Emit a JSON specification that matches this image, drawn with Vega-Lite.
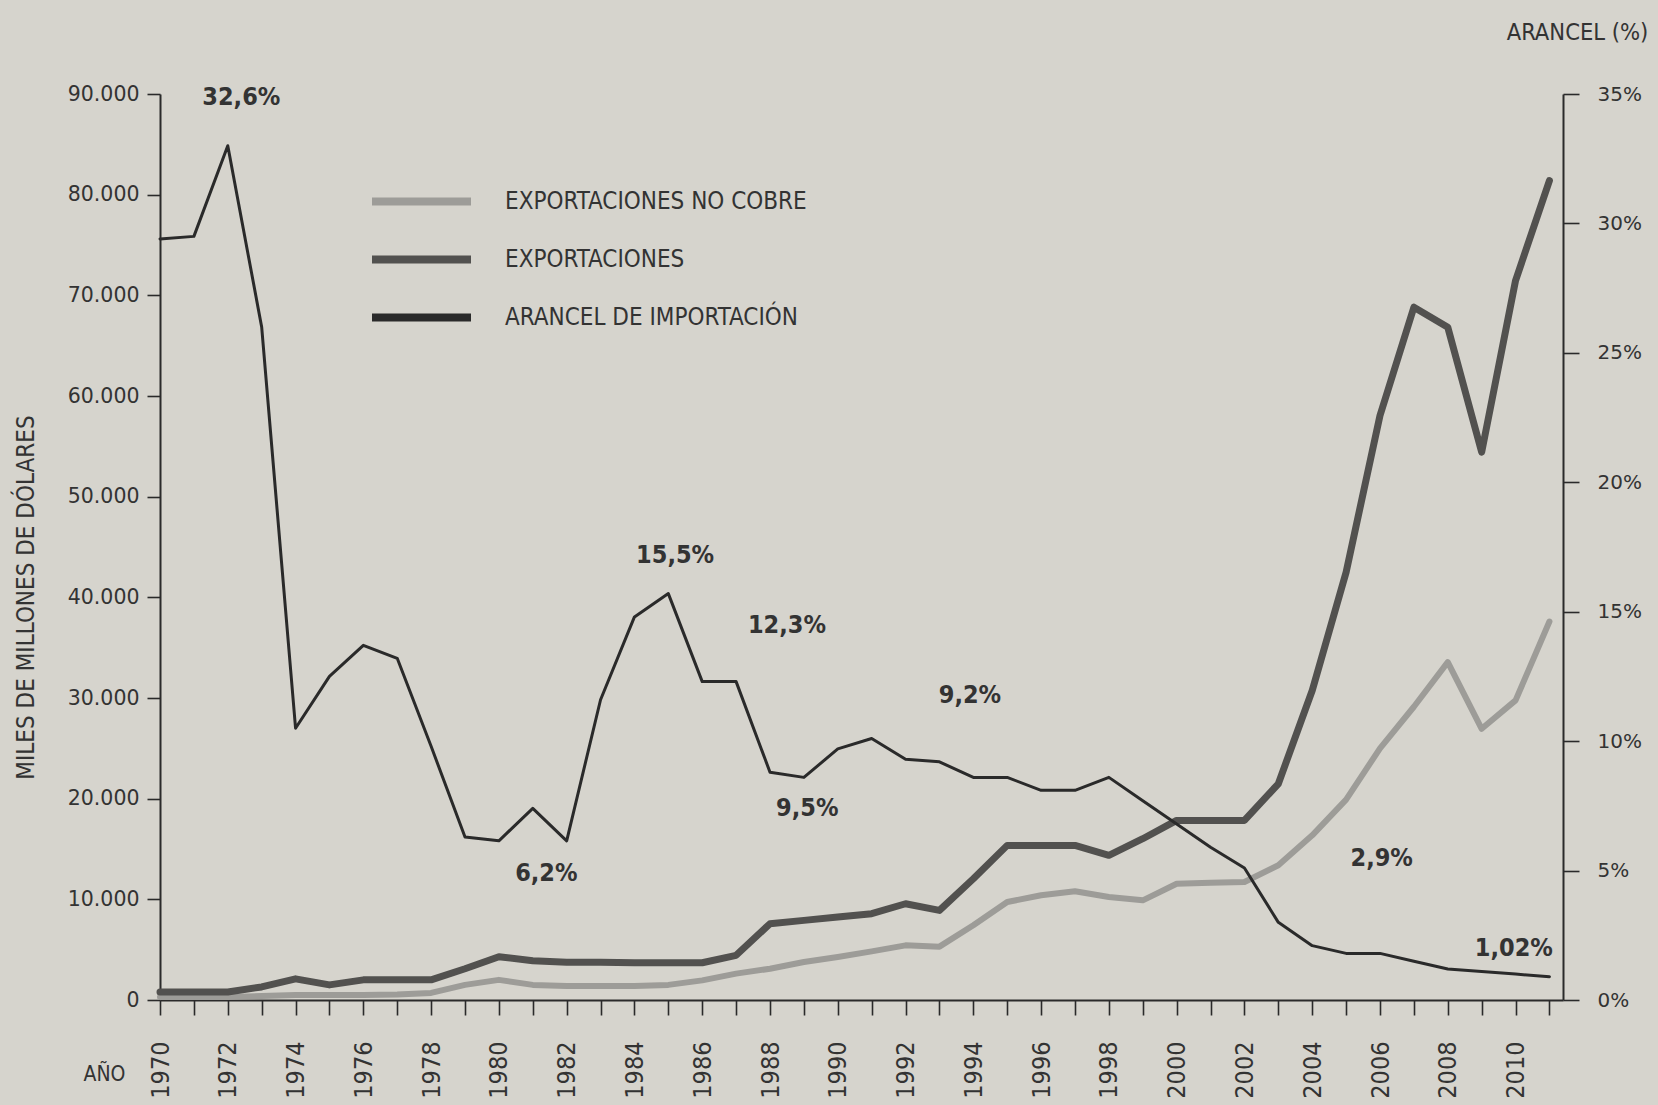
{
  "$schema": "https://vega.github.io/schema/vega-lite/v6.json",
  "width": 1403,
  "height": 906,
  "autosize": {"type": "none"},
  "padding": {"left": 160, "top": 94, "right": 95, "bottom": 105},
  "background": "#d6d4cd",
  "config": {
    "view": {"stroke": null},
    "axis": {
      "grid": false,
      "domainColor": "#2a2a2a",
      "domainWidth": 2,
      "tickColor": "#2a2a2a",
      "tickWidth": 1.6,
      "labelColor": "#333333",
      "titleColor": "#333333",
      "titleFontWeight": "normal"
    },
    "legend": {
      "orient": "none",
      "legendX": 208,
      "legendY": 87,
      "direction": "vertical",
      "padding": 0,
      "symbolType": "M-1,0H5",
      "symbolSize": 1089,
      "symbolStrokeWidth": 8,
      "labelOffset": 96,
      "rowPadding": 21,
      "labelFont": "'DejaVu Sans Condensed', 'Liberation Sans Narrow', 'Roboto', sans-serif",
      "labelFontSize": 24,
      "labelColor": "#333333",
      "labelLimit": 500,
      "title": null
    }
  },
  "datasets": {
    "exportaciones": [
      {"year": 1970, "serie": "EXPORTACIONES NO COBRE", "valor": 300},
      {"year": 1971, "serie": "EXPORTACIONES NO COBRE", "valor": 300},
      {"year": 1972, "serie": "EXPORTACIONES NO COBRE", "valor": 300},
      {"year": 1973, "serie": "EXPORTACIONES NO COBRE", "valor": 400},
      {"year": 1974, "serie": "EXPORTACIONES NO COBRE", "valor": 500},
      {"year": 1975, "serie": "EXPORTACIONES NO COBRE", "valor": 500},
      {"year": 1976, "serie": "EXPORTACIONES NO COBRE", "valor": 500},
      {"year": 1977, "serie": "EXPORTACIONES NO COBRE", "valor": 550},
      {"year": 1978, "serie": "EXPORTACIONES NO COBRE", "valor": 700},
      {"year": 1979, "serie": "EXPORTACIONES NO COBRE", "valor": 1500},
      {"year": 1980, "serie": "EXPORTACIONES NO COBRE", "valor": 2000},
      {"year": 1981, "serie": "EXPORTACIONES NO COBRE", "valor": 1500},
      {"year": 1982, "serie": "EXPORTACIONES NO COBRE", "valor": 1400},
      {"year": 1983, "serie": "EXPORTACIONES NO COBRE", "valor": 1400},
      {"year": 1984, "serie": "EXPORTACIONES NO COBRE", "valor": 1400},
      {"year": 1985, "serie": "EXPORTACIONES NO COBRE", "valor": 1500},
      {"year": 1986, "serie": "EXPORTACIONES NO COBRE", "valor": 1950},
      {"year": 1987, "serie": "EXPORTACIONES NO COBRE", "valor": 2620},
      {"year": 1988, "serie": "EXPORTACIONES NO COBRE", "valor": 3110},
      {"year": 1989, "serie": "EXPORTACIONES NO COBRE", "valor": 3770},
      {"year": 1990, "serie": "EXPORTACIONES NO COBRE", "valor": 4270},
      {"year": 1991, "serie": "EXPORTACIONES NO COBRE", "valor": 4830},
      {"year": 1992, "serie": "EXPORTACIONES NO COBRE", "valor": 5430},
      {"year": 1993, "serie": "EXPORTACIONES NO COBRE", "valor": 5300},
      {"year": 1994, "serie": "EXPORTACIONES NO COBRE", "valor": 7420},
      {"year": 1995, "serie": "EXPORTACIONES NO COBRE", "valor": 9730},
      {"year": 1996, "serie": "EXPORTACIONES NO COBRE", "valor": 10400},
      {"year": 1997, "serie": "EXPORTACIONES NO COBRE", "valor": 10800},
      {"year": 1998, "serie": "EXPORTACIONES NO COBRE", "valor": 10230},
      {"year": 1999, "serie": "EXPORTACIONES NO COBRE", "valor": 9900},
      {"year": 2000, "serie": "EXPORTACIONES NO COBRE", "valor": 11550},
      {"year": 2001, "serie": "EXPORTACIONES NO COBRE", "valor": 11650},
      {"year": 2002, "serie": "EXPORTACIONES NO COBRE", "valor": 11720},
      {"year": 2003, "serie": "EXPORTACIONES NO COBRE", "valor": 13380},
      {"year": 2004, "serie": "EXPORTACIONES NO COBRE", "valor": 16360},
      {"year": 2005, "serie": "EXPORTACIONES NO COBRE", "valor": 19900},
      {"year": 2006, "serie": "EXPORTACIONES NO COBRE", "valor": 25000},
      {"year": 2007, "serie": "EXPORTACIONES NO COBRE", "valor": 29130},
      {"year": 2008, "serie": "EXPORTACIONES NO COBRE", "valor": 33560},
      {"year": 2009, "serie": "EXPORTACIONES NO COBRE", "valor": 26940},
      {"year": 2010, "serie": "EXPORTACIONES NO COBRE", "valor": 29760},
      {"year": 2011, "serie": "EXPORTACIONES NO COBRE", "valor": 37600},
      {"year": 1970, "serie": "EXPORTACIONES", "valor": 800},
      {"year": 1971, "serie": "EXPORTACIONES", "valor": 800},
      {"year": 1972, "serie": "EXPORTACIONES", "valor": 800},
      {"year": 1973, "serie": "EXPORTACIONES", "valor": 1300},
      {"year": 1974, "serie": "EXPORTACIONES", "valor": 2100},
      {"year": 1975, "serie": "EXPORTACIONES", "valor": 1500},
      {"year": 1976, "serie": "EXPORTACIONES", "valor": 2000},
      {"year": 1977, "serie": "EXPORTACIONES", "valor": 2000},
      {"year": 1978, "serie": "EXPORTACIONES", "valor": 2000},
      {"year": 1979, "serie": "EXPORTACIONES", "valor": 3100},
      {"year": 1980, "serie": "EXPORTACIONES", "valor": 4300},
      {"year": 1981, "serie": "EXPORTACIONES", "valor": 3900},
      {"year": 1982, "serie": "EXPORTACIONES", "valor": 3750},
      {"year": 1983, "serie": "EXPORTACIONES", "valor": 3750},
      {"year": 1984, "serie": "EXPORTACIONES", "valor": 3700},
      {"year": 1985, "serie": "EXPORTACIONES", "valor": 3700},
      {"year": 1986, "serie": "EXPORTACIONES", "valor": 3700},
      {"year": 1987, "serie": "EXPORTACIONES", "valor": 4440},
      {"year": 1988, "serie": "EXPORTACIONES", "valor": 7580},
      {"year": 1989, "serie": "EXPORTACIONES", "valor": 7910},
      {"year": 1990, "serie": "EXPORTACIONES", "valor": 8240},
      {"year": 1991, "serie": "EXPORTACIONES", "valor": 8570},
      {"year": 1992, "serie": "EXPORTACIONES", "valor": 9560},
      {"year": 1993, "serie": "EXPORTACIONES", "valor": 8900},
      {"year": 1994, "serie": "EXPORTACIONES", "valor": 12050},
      {"year": 1995, "serie": "EXPORTACIONES", "valor": 15360},
      {"year": 1996, "serie": "EXPORTACIONES", "valor": 15360},
      {"year": 1997, "serie": "EXPORTACIONES", "valor": 15360},
      {"year": 1998, "serie": "EXPORTACIONES", "valor": 14370},
      {"year": 1999, "serie": "EXPORTACIONES", "valor": 16020},
      {"year": 2000, "serie": "EXPORTACIONES", "valor": 17840},
      {"year": 2001, "serie": "EXPORTACIONES", "valor": 17840},
      {"year": 2002, "serie": "EXPORTACIONES", "valor": 17840},
      {"year": 2003, "serie": "EXPORTACIONES", "valor": 21480},
      {"year": 2004, "serie": "EXPORTACIONES", "valor": 30750},
      {"year": 2005, "serie": "EXPORTACIONES", "valor": 42500},
      {"year": 2006, "serie": "EXPORTACIONES", "valor": 58060},
      {"year": 2007, "serie": "EXPORTACIONES", "valor": 68820},
      {"year": 2008, "serie": "EXPORTACIONES", "valor": 66830},
      {"year": 2009, "serie": "EXPORTACIONES", "valor": 54420},
      {"year": 2010, "serie": "EXPORTACIONES", "valor": 71470},
      {"year": 2011, "serie": "EXPORTACIONES", "valor": 81400}
    ],
    "arancel": [
      {"year": 1970, "serie": "ARANCEL DE IMPORTACIÓN", "pct": 29.4},
      {"year": 1971, "serie": "ARANCEL DE IMPORTACIÓN", "pct": 29.5},
      {"year": 1972, "serie": "ARANCEL DE IMPORTACIÓN", "pct": 33.0},
      {"year": 1973, "serie": "ARANCEL DE IMPORTACIÓN", "pct": 26.0},
      {"year": 1974, "serie": "ARANCEL DE IMPORTACIÓN", "pct": 10.5},
      {"year": 1975, "serie": "ARANCEL DE IMPORTACIÓN", "pct": 12.5},
      {"year": 1976, "serie": "ARANCEL DE IMPORTACIÓN", "pct": 13.7},
      {"year": 1977, "serie": "ARANCEL DE IMPORTACIÓN", "pct": 13.2},
      {"year": 1978, "serie": "ARANCEL DE IMPORTACIÓN", "pct": 9.8},
      {"year": 1979, "serie": "ARANCEL DE IMPORTACIÓN", "pct": 6.3},
      {"year": 1980, "serie": "ARANCEL DE IMPORTACIÓN", "pct": 6.15},
      {"year": 1981, "serie": "ARANCEL DE IMPORTACIÓN", "pct": 7.4},
      {"year": 1982, "serie": "ARANCEL DE IMPORTACIÓN", "pct": 6.15},
      {"year": 1983, "serie": "ARANCEL DE IMPORTACIÓN", "pct": 11.6},
      {"year": 1984, "serie": "ARANCEL DE IMPORTACIÓN", "pct": 14.8},
      {"year": 1985, "serie": "ARANCEL DE IMPORTACIÓN", "pct": 15.7},
      {"year": 1986, "serie": "ARANCEL DE IMPORTACIÓN", "pct": 12.3},
      {"year": 1987, "serie": "ARANCEL DE IMPORTACIÓN", "pct": 12.3},
      {"year": 1988, "serie": "ARANCEL DE IMPORTACIÓN", "pct": 8.8},
      {"year": 1989, "serie": "ARANCEL DE IMPORTACIÓN", "pct": 8.6},
      {"year": 1990, "serie": "ARANCEL DE IMPORTACIÓN", "pct": 9.7},
      {"year": 1991, "serie": "ARANCEL DE IMPORTACIÓN", "pct": 10.1},
      {"year": 1992, "serie": "ARANCEL DE IMPORTACIÓN", "pct": 9.3},
      {"year": 1993, "serie": "ARANCEL DE IMPORTACIÓN", "pct": 9.2},
      {"year": 1994, "serie": "ARANCEL DE IMPORTACIÓN", "pct": 8.6},
      {"year": 1995, "serie": "ARANCEL DE IMPORTACIÓN", "pct": 8.6},
      {"year": 1996, "serie": "ARANCEL DE IMPORTACIÓN", "pct": 8.1},
      {"year": 1997, "serie": "ARANCEL DE IMPORTACIÓN", "pct": 8.1},
      {"year": 1998, "serie": "ARANCEL DE IMPORTACIÓN", "pct": 8.6},
      {"year": 1999, "serie": "ARANCEL DE IMPORTACIÓN", "pct": 7.7},
      {"year": 2000, "serie": "ARANCEL DE IMPORTACIÓN", "pct": 6.8},
      {"year": 2001, "serie": "ARANCEL DE IMPORTACIÓN", "pct": 5.9},
      {"year": 2002, "serie": "ARANCEL DE IMPORTACIÓN", "pct": 5.1},
      {"year": 2003, "serie": "ARANCEL DE IMPORTACIÓN", "pct": 3.0},
      {"year": 2004, "serie": "ARANCEL DE IMPORTACIÓN", "pct": 2.1},
      {"year": 2005, "serie": "ARANCEL DE IMPORTACIÓN", "pct": 1.8},
      {"year": 2006, "serie": "ARANCEL DE IMPORTACIÓN", "pct": 1.8},
      {"year": 2007, "serie": "ARANCEL DE IMPORTACIÓN", "pct": 1.5},
      {"year": 2008, "serie": "ARANCEL DE IMPORTACIÓN", "pct": 1.2},
      {"year": 2009, "serie": "ARANCEL DE IMPORTACIÓN", "pct": 1.1},
      {"year": 2010, "serie": "ARANCEL DE IMPORTACIÓN", "pct": 1.0},
      {"year": 2011, "serie": "ARANCEL DE IMPORTACIÓN", "pct": 0.9}
    ],
    "etiquetas": [
      {"year": 1972.4, "pct": 34.9, "label": "32,6%"},
      {"year": 1985.2, "pct": 17.2, "label": "15,5%"},
      {"year": 1988.5, "pct": 14.5, "label": "12,3%"},
      {"year": 1993.9, "pct": 11.8, "label": "9,2%"},
      {"year": 1989.1, "pct": 7.4, "label": "9,5%"},
      {"year": 1981.4, "pct": 4.9, "label": "6,2%"},
      {"year": 2006.05, "pct": 5.5, "label": "2,9%"},
      {"year": 2009.95, "pct": 2.0, "label": "1,02%"}
    ]
  },
  "encoding": {
    "x": {
      "field": "year",
      "type": "quantitative",
      "scale": {"domain": [1970, 2011.4], "nice": false, "zero": false},
      "axis": {
        "values": [1970,1971,1972,1973,1974,1975,1976,1977,1978,1979,1980,1981,1982,1983,1984,1985,1986,1987,1988,1989,1990,1991,1992,1993,1994,1995,1996,1997,1998,1999,2000,2001,2002,2003,2004,2005,2006,2007,2008,2009,2010,2011],
        "labelExpr": "datum.value % 2 == 0 ? toString(datum.value) : ''",
        "labelAngle": 270,
        "labelFont": "'DejaVu Sans Condensed', 'Liberation Sans Narrow', 'Roboto', sans-serif",
        "labelFontSize": 25,
        "labelPadding": 26,
        "labelOverlap": false,
        "tickSize": 15,
        "title": "AÑO",
        "titleFont": "'DejaVu Sans Condensed', 'Liberation Sans Narrow', 'Roboto', sans-serif",
        "titleFontSize": 21,
        "titleAngle": 0,
        "titleX": -56,
        "titleY": 74,
        "titleAlign": "center",
        "titleBaseline": "middle"
      }
    }
  },
  "layer": [
    {
      "data": {"name": "exportaciones"},
      "encoding": {
        "y": {
          "field": "valor",
          "type": "quantitative",
          "scale": {"domain": [0, 90000], "nice": false},
          "axis": {
            "orient": "left",
            "values": [0, 10000, 20000, 30000, 40000, 50000, 60000, 70000, 80000, 90000],
            "labelExpr": "replace(format(datum.value, ','), ',', '.')",
            "labelFont": "DejaVu Sans",
            "labelFontSize": 20.5,
            "tickSize": 13,
            "labelPadding": 8,
            "title": "MILES DE MILLONES DE DÓLARES",
            "titleFont": "'DejaVu Sans Condensed', 'Liberation Sans Narrow', 'Roboto', sans-serif",
            "titleFontSize": 24,
            "titleAngle": 270,
            "titleX": -134,
            "titleY": 503,
            "titleAlign": "center",
            "titleBaseline": "middle"
          }
        },
        "color": {
          "field": "serie",
          "type": "nominal",
          "scale": {
            "domain": ["EXPORTACIONES NO COBRE", "EXPORTACIONES", "ARANCEL DE IMPORTACIÓN"],
            "range": ["#9d9c98", "#52514f", "#2a2a2a"]
          }
        }
      },
      "layer": [
        {
          "transform": [{"filter": "datum.serie == 'EXPORTACIONES NO COBRE'"}],
          "mark": {"type": "line", "strokeWidth": 6, "strokeJoin": "round", "strokeCap": "round"}
        },
        {
          "transform": [{"filter": "datum.serie == 'EXPORTACIONES'"}],
          "mark": {"type": "line", "strokeWidth": 7, "strokeJoin": "round", "strokeCap": "round"}
        }
      ]
    },
    {
      "encoding": {
        "y": {
          "field": "pct",
          "type": "quantitative",
          "scale": {"domain": [0, 35], "nice": false},
          "axis": {
            "orient": "right",
            "values": [0, 5, 10, 15, 20, 25, 30, 35],
            "labelExpr": "datum.value + '%'",
            "labelFont": "DejaVu Sans",
            "labelFontSize": 20,
            "tickSize": 16,
            "labelPadding": 18,
            "title": "ARANCEL (%)",
            "titleFont": "'DejaVu Sans Condensed', 'Liberation Sans Narrow', 'Roboto', sans-serif",
            "titleFontSize": 23.5,
            "titleAngle": 0,
            "titleX": 14,
            "titleY": -62,
            "titleAlign": "center",
            "titleBaseline": "middle"
          }
        }
      },
      "layer": [
        {
          "data": {"name": "arancel"},
          "mark": {"type": "line", "strokeWidth": 3, "strokeJoin": "round", "strokeCap": "round"},
          "encoding": {
            "color": {
              "field": "serie",
              "type": "nominal",
              "scale": {
                "domain": ["EXPORTACIONES NO COBRE", "EXPORTACIONES", "ARANCEL DE IMPORTACIÓN"],
                "range": ["#9d9c98", "#52514f", "#2a2a2a"]
              }
            }
          }
        },
        {
          "data": {"name": "etiquetas"},
          "mark": {
            "type": "text",
            "font": "'DejaVu Sans Condensed', 'Liberation Sans Narrow', 'Roboto', sans-serif",
            "fontWeight": "bold",
            "fontSize": 25,
            "color": "#333333",
            "align": "center",
            "baseline": "middle"
          },
          "encoding": {"text": {"field": "label", "type": "nominal"}}
        }
      ]
    }
  ],
  "resolve": {"scale": {"y": "independent"}}
}
